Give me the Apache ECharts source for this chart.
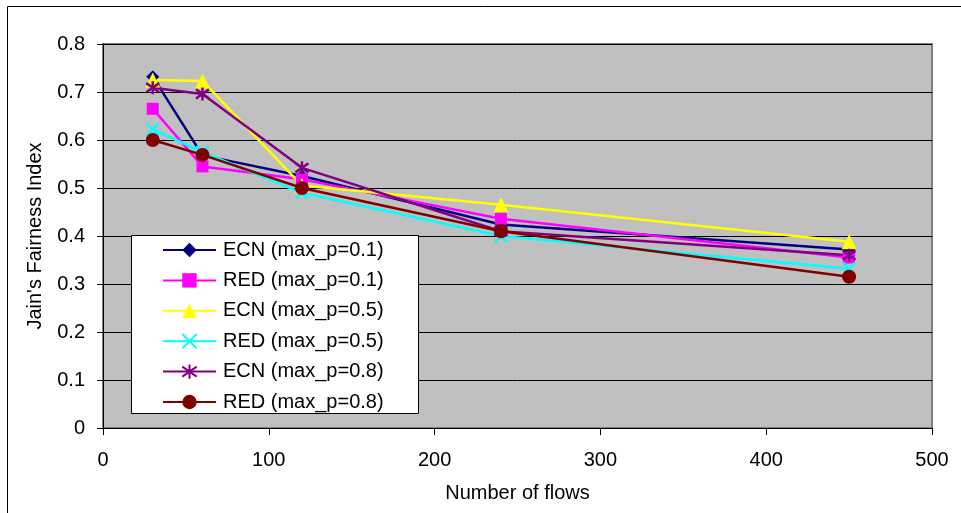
<!DOCTYPE html>
<html><head><meta charset="utf-8">
<script src="https://cdn.jsdelivr.net/npm/echarts@6/dist/echarts.min.js"></script>
<style>html,body{margin:0;padding:0;background:#fff}#c{width:961px;height:513px}</style>
</head><body><div id="c"></div>
<script>
const flows = [30, 60, 120, 240, 450];
const ecn01 = [0.732, 0.568, 0.525, 0.424, 0.372];
const red01 = [0.665, 0.545, 0.518, 0.436, 0.355];
const ecn05 = [0.725, 0.723, 0.505, 0.465, 0.388];
const red05 = [0.622, 0.575, 0.490, 0.400, 0.332];
const ecn08 = [0.709, 0.696, 0.542, 0.410, 0.360];
const red08 = [0.600, 0.569, 0.500, 0.410, 0.315];
const names = ['ECN (max_p=0.1)','RED (max_p=0.1)','ECN (max_p=0.5)','RED (max_p=0.5)','ECN (max_p=0.8)','RED (max_p=0.8)'];
const xTicks = [0, 100, 200, 300, 400, 500];
const yTicks = [0, 0.1, 0.2, 0.3, 0.4, 0.5, 0.6, 0.7, 0.8];

const xMark = 'path://M0,0L10,10M10,0L0,10';
const starMark = 'path://M5,0L5,10M0,1.5L10,8.5M10,1.5L0,8.5';
const styles = [
  {color:'#000080', symbol:'diamond', size:13},
  {color:'#FF00FF', symbol:'rect', size:12},
  {color:'#FFFF00', symbol:'triangle', size:15},
  {color:'#00FFFF', symbol:xMark, size:12, stroke:true},
  {color:'#800080', symbol:starMark, size:13, stroke:true},
  {color:'#800000', symbol:'circle', size:14}
];
const datas = [ecn01, red01, ecn05, red05, ecn08, red08];
const series = datas.map((d, i) => ({
  name: names[i], type: 'line',
  data: d.map((v, j) => [flows[j], v]),
  symbol: styles[i].symbol, symbolSize: styles[i].size,
  lineStyle: {color: styles[i].color, width: 2.5},
  itemStyle: styles[i].stroke ? {color: styles[i].color, borderColor: styles[i].color, borderWidth: 2.5} : {color: styles[i].color, borderWidth: 0},
  emphasis: {disabled: true},
  animation: false
}));
const font = 'Liberation Sans, Arial, sans-serif';
const chart = echarts.init(document.getElementById('c'));
chart.setOption({
  animation: false,
  textStyle: {fontFamily: font},
  graphic: [
    {type:'rect', shape:{x:7.5, y:6.5, width:1000, height:600}, style:{fill:null, stroke:'#000', lineWidth:1}, z:-10},
    {type:'rect', shape:{x:131.5, y:235.5, width:287, height:178}, style:{fill:'#fff', stroke:'#000', lineWidth:1}, z:3}
  ],
  grid: {left:103, right:29, top:44, bottom:85, show:true, backgroundColor:'#C0C0C0', borderColor:'#808080', borderWidth:2},
  legend: {
    orient:'vertical', left:162, top:240, z:4,
    padding:0,
    itemWidth:53, itemHeight:18, itemGap:10.4,
    textStyle:{fontSize:20, color:'#000', fontFamily:font, padding:[0,0,0,2]},
    data: names, align:'left'
  },
  xAxis: {
    type:'value', min:0, max:500, interval:100,
    name:'Number of flows', nameLocation:'middle', nameGap:55,
    nameTextStyle:{fontSize:20, color:'#000', fontFamily:font},
    axisLine:{show:true, lineStyle:{color:'#000', width:1}},
    axisTick:{show:true, length:7, lineStyle:{color:'#000'}},
    axisLabel:{fontSize:20, color:'#000', margin:22, fontFamily:font},
    splitLine:{show:false}
  },
  yAxis: {
    type:'value', min:0, max:0.8, interval:0.1,
    name:"Jain's Fairness Index", nameLocation:'middle', nameGap:58, nameRotate:90,
    nameTextStyle:{fontSize:20, color:'#000', fontFamily:font},
    axisLine:{show:true, lineStyle:{color:'#000', width:1}},
    axisTick:{show:true, length:6, lineStyle:{color:'#000'}},
    axisLabel:{fontSize:20, color:'#000', margin:18, fontFamily:font},
    splitLine:{show:true, lineStyle:{color:'#000', width:1}}
  },
  series: series
});
</script></body></html>
